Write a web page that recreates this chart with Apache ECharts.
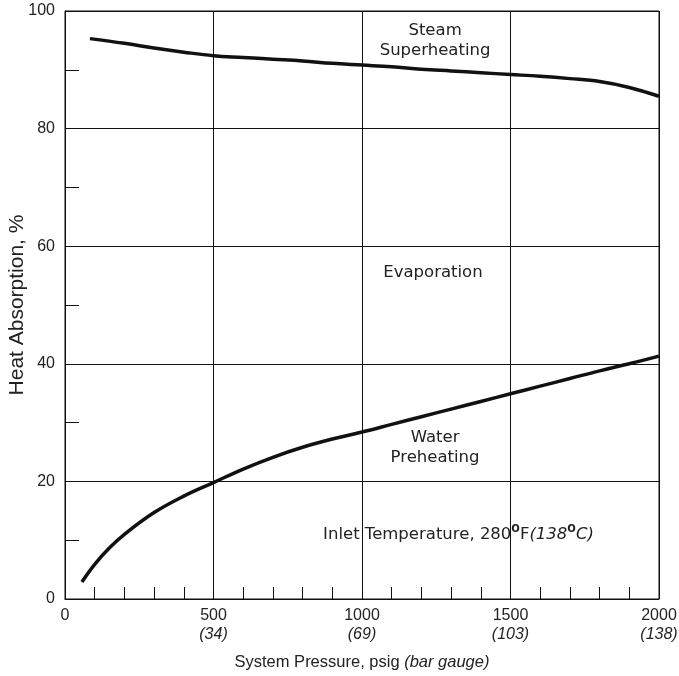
<!DOCTYPE html>
<html><head><meta charset="utf-8">
<script src="https://cdn.jsdelivr.net/npm/echarts@6/dist/echarts.min.js"></script>
<style>html,body{margin:0;padding:0;background:#fff}#c{width:679px;height:676px}</style>
</head><body><div id="c"></div>
<script>
// Steam superheating boundary (upper curve)
const pressureTop = [84, 200, 300, 400, 500, 600, 700, 800, 900, 1000, 1100, 1200, 1300, 1400, 1500, 1600, 1700, 1800, 1900, 2000];
const absorptionTop = [95.3, 94.5, 93.7, 93.0, 92.4, 92.1, 91.8, 91.5, 91.1, 90.8, 90.5, 90.1, 89.8, 89.5, 89.2, 88.9, 88.5, 88.0, 87.0, 85.5];
// Water preheating boundary (lower curve)
const pressureLow = [57, 100, 150, 200, 300, 400, 500, 600, 700, 800, 900, 1000, 1100, 1200, 1300, 1400, 1500, 1600, 1700, 1800, 1900, 2000];
const absorptionLow = [2.9, 5.9, 8.7, 11.0, 14.7, 17.5, 19.8, 22.1, 24.1, 25.8, 27.2, 28.4, 29.7, 31.0, 32.3, 33.6, 34.9, 36.2, 37.5, 38.8, 40.0, 41.3];
// x tick labels
const psigTicks = [0, 500, 1000, 1500, 2000];
const barTicks = ['', '(34)', '(69)', '(103)', '(138)'];

const FONT = '"Liberation Sans", Arial, sans-serif';
const AFONT = '"DejaVu Sans", sans-serif';
const TXT = '#222';
const chart = echarts.init(document.getElementById('c'));

const topData = pressureTop.map((p, i) => [p, absorptionTop[i]]);
const lowData = pressureLow.map((p, i) => [p, absorptionLow[i]]);

chart.setOption({
  animation: false,
  grid: { left: 65, right: 20, top: 11, bottom: 77, outerBoundsMode: 'none', containLabel: false,
    show: true, borderColor: '#111', borderWidth: 1, backgroundColor: 'transparent' },
  xAxis: {
    type: 'value', min: 0, max: 2000, interval: 500,
    axisLine: { show: true, lineStyle: { color: '#111', width: 1 } },
    axisTick: { show: false, inside: true, length: 12 },
    minorTick: { show: true, splitNumber: 5, length: 12, lineStyle: { color: '#111', width: 1 } },
    splitLine: { show: true, lineStyle: { color: '#111', width: 1 } },
    axisLabel: {
      margin: 7, color: TXT, fontFamily: FONT, fontSize: 16, lineHeight: 19,
      formatter: v => { const k = psigTicks.indexOf(v); return (k > 0) ? v + '\n{i|' + barTicks[k] + '}' : String(v); },
      rich: { i: { fontStyle: 'italic', fontFamily: FONT, fontSize: 16, lineHeight: 19, color: TXT } }
    },
    name: 'System Pressure, psig {i|(bar gauge)}', nameLocation: 'middle', nameGap: 55, nameMoveOverlap: false,
    nameTextStyle: { color: TXT, fontFamily: FONT, fontSize: 16.5,
      rich: { i: { fontStyle: 'italic', fontFamily: FONT, fontSize: 16.5, color: TXT } } }
  },
  yAxis: {
    type: 'value', min: 0, max: 100, interval: 20,
    axisLine: { show: true, lineStyle: { color: '#111', width: 1 } },
    axisTick: { show: false, inside: true, length: 14 },
    minorTick: { show: true, splitNumber: 2, length: 14, lineStyle: { color: '#111', width: 1 } },
    splitLine: { show: true, lineStyle: { color: '#111', width: 1 } },
    axisLabel: { margin: 10, color: TXT, fontFamily: FONT, fontSize: 16 },
    name: 'Heat Absorption, %', nameLocation: 'middle', nameGap: 37, nameMoveOverlap: false,
    nameTextStyle: { color: TXT, fontFamily: FONT, fontSize: 21 }
  },
  series: [
    { type: 'line', data: topData, smooth: 0.4, showSymbol: false, lineStyle: { color: '#111', width: 3.5 } },
    { type: 'line', data: lowData, smooth: 0.4, showSymbol: false, lineStyle: { color: '#111', width: 3.5 } }
  ]
});

const px = (x, y) => chart.convertToPixel({ gridIndex: 0 }, [x, y]);
const tstyle = { fill: TXT, font: '16.5px ' + AFONT };
const p1 = px(1246, 94.9), p2 = px(1239, 55.5), p3 = px(1246, 25.8), p4 = px(869, 10.9);
chart.setOption({
  graphic: [
    { type: 'text', x: p1[0], y: p1[1], style: Object.assign({ text: 'Steam\nSuperheating', align: 'center', verticalAlign: 'middle', lineHeight: 20 }, tstyle) },
    { type: 'text', x: p2[0], y: p2[1], style: Object.assign({ text: 'Evaporation', align: 'center', verticalAlign: 'middle' }, tstyle) },
    { type: 'text', x: p3[0], y: p3[1], style: Object.assign({ text: 'Water\nPreheating', align: 'center', verticalAlign: 'middle', lineHeight: 20 }, tstyle) },
    { type: 'text', x: p4[0], y: p4[1], style: {
      text: '{n|Inlet Temperature, 280}{s|o}{n|F}{i|(138}{s|o}{i|C)}', align: 'left', verticalAlign: 'middle',
      rich: {
        n: { fill: TXT, font: '16.5px ' + AFONT },
        i: { fill: TXT, font: 'italic 16.5px ' + AFONT },
        s: { fill: TXT, font: 'bold 14px ' + FONT, padding: [0, 0, 13, 0] }
      } } }
  ]
});
</script></body></html>
